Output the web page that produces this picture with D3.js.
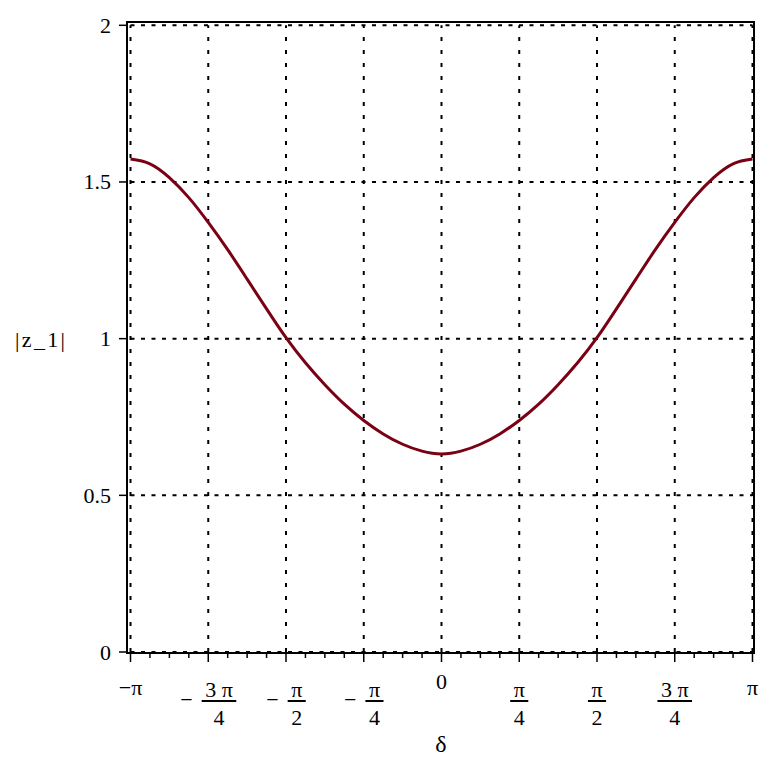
<!DOCTYPE html>
<html>
<head>
<meta charset="utf-8">
<script src="https://cdn.jsdelivr.net/npm/d3@7"></script>
<style>
  html, body { margin: 0; padding: 0; background: #fff; }
  svg { display: block; }
  text { font-family: "Liberation Serif", "DejaVu Serif", serif; fill: #000; }
</style>
</head>
<body>
<svg id="chart" width="772" height="772"></svg>
<script>
// ---- data (delta in units of pi, |z_1| values) ----
const deltaInPi = [-1, -0.9375, -0.875, -0.8125, -0.75, -0.6875, -0.625, -0.5625, -0.5,
  -0.4375, -0.375, -0.3125, -0.25, -0.1875, -0.125, -0.0625, 0,
  0.0625, 0.125, 0.1875, 0.25, 0.3125, 0.375, 0.4375, 0.5,
  0.5625, 0.625, 0.6875, 0.75, 0.8125, 0.875, 0.9375, 1];
const z1Values = [1.573, 1.558, 1.514, 1.450, 1.371, 1.284, 1.190, 1.095, 1.003,
  0.923, 0.853, 0.791, 0.739, 0.696, 0.663, 0.641, 0.632,
  0.641, 0.663, 0.696, 0.739, 0.791, 0.853, 0.923, 1.003,
  1.095, 1.190, 1.284, 1.371, 1.450, 1.514, 1.558, 1.573];

const xTickInPi = [-1, -0.75, -0.5, -0.25, 0, 0.25, 0.5, 0.75, 1];
const xMinorInPi = [-0.9375, -0.875, -0.8125, -0.6875, -0.625, -0.5625, -0.4375, -0.375, -0.3125,
  -0.1875, -0.125, -0.0625, 0.0625, 0.125, 0.1875, 0.3125, 0.375, 0.4375,
  0.5625, 0.625, 0.6875, 0.8125, 0.875, 0.9375];
// label: sign, numerator, denominator (null denominator = plain text)
const xTickLabels = [
  {sign: "", num: "−π", den: null},
  {sign: "−", num: "3 π", den: "4"},
  {sign: "−", num: "π", den: "2"},
  {sign: "−", num: "π", den: "4"},
  {sign: "", num: "0", den: null},
  {sign: "", num: "π", den: "4"},
  {sign: "", num: "π", den: "2"},
  {sign: "", num: "3 π", den: "4"},
  {sign: "", num: "π", den: null}
];
const yTicks = [0, 0.5, 1, 1.5, 2];
const yTickLabels = ["0", "0.5", "1", "1.5", "2"];
const xTitle = "δ";
const yTitle = "|z_1|";

// ---- drawing ----
const svg = d3.select("#chart");
const x = d3.scaleLinear().domain([-Math.PI, Math.PI]).range([130.5, 752.5]);
const y = d3.scaleLinear().domain([0, 2]).range([652, 25.3]);

const curveColor = "#7a0014";

// grid
const grid = svg.append("g");
grid.selectAll("line.h").data(yTicks).join("line")
  .attr("x1", x(-Math.PI)).attr("x2", x(Math.PI))
  .attr("y1", d => y(d)).attr("y2", d => y(d))
  .attr("stroke", "#000").attr("stroke-width", 2)
  .attr("stroke-dasharray", "4,6.5");
grid.selectAll("line.v").data(xTickInPi).join("line")
  .attr("x1", d => x(d * Math.PI)).attr("x2", d => x(d * Math.PI))
  .attr("y1", y(0)).attr("y2", y(2))
  .attr("stroke", "#000").attr("stroke-width", 2)
  .attr("stroke-dasharray", "4,9");

// frame
svg.append("rect")
  .attr("x", 127).attr("y", 22).attr("width", 627).attr("height", 631)
  .attr("fill", "none").attr("stroke", "#000").attr("stroke-width", 2);

// x ticks
const axisY = 653;
svg.append("g").selectAll("line").data(xTickInPi).join("line")
  .attr("x1", d => x(d * Math.PI)).attr("x2", d => x(d * Math.PI))
  .attr("y1", axisY).attr("y2", axisY + 9)
  .attr("stroke", "#000").attr("stroke-width", 1.5);
svg.append("g").selectAll("line").data(xMinorInPi).join("line")
  .attr("x1", d => x(d * Math.PI)).attr("x2", d => x(d * Math.PI))
  .attr("y1", axisY).attr("y2", axisY + 5)
  .attr("stroke", "#000").attr("stroke-width", 1.5);

// y ticks
svg.append("g").selectAll("line").data(yTicks).join("line")
  .attr("x1", 119).attr("x2", 127)
  .attr("y1", d => y(d)).attr("y2", d => y(d))
  .attr("stroke", "#000").attr("stroke-width", 1.5);
svg.append("g").selectAll("text").data(yTicks).join("text")
  .attr("x", 111).attr("y", d => y(d) + 7.5)
  .attr("text-anchor", "end").attr("font-size", 22)
  .text((d, i) => yTickLabels[i]);

// x tick labels
const fs = 22;
xTickInPi.forEach((t, i) => {
  const lab = xTickLabels[i];
  const g = svg.append("g").attr("transform", `translate(${x(t * Math.PI)},0)`);
  if (lab.den === null) {
    g.append("text").attr("x", 0).attr("y", lab.num === "0" ? 689 : 695)
      .attr("text-anchor", "middle").attr("font-size", fs).text(lab.num);
    return;
  }
  const num = g.append("text").attr("y", 697).attr("text-anchor", "middle")
    .attr("font-size", fs).text(lab.num);
  const den = g.append("text").attr("y", 725).attr("text-anchor", "middle")
    .attr("font-size", fs).text(lab.den);
  const nw = num.node().getComputedTextLength();
  const barW = nw + 7;
  let signW = 0, gap = 0, sign = null;
  if (lab.sign) {
    sign = g.append("text").attr("y", 707).attr("text-anchor", "start")
      .attr("font-size", fs).text(lab.sign);
    signW = sign.node().getComputedTextLength();
    gap = 9;
  }
  const total = signW + gap + barW;
  const left = -total / 2;
  if (sign) sign.attr("x", left);
  const barL = left + signW + gap;
  const cx = barL + barW / 2;
  num.attr("x", cx);
  den.attr("x", cx);
  g.append("line").attr("x1", barL).attr("x2", barL + barW)
    .attr("y1", 701).attr("y2", 701)
    .attr("stroke", "#000").attr("stroke-width", 2);
});

// titles
svg.append("text").attr("x", 441).attr("y", 752).attr("text-anchor", "middle")
  .attr("font-size", 24).text(xTitle);
svg.append("text").attr("x", 15).attr("y", 347).attr("text-anchor", "start")
  .attr("font-size", 22).attr("textLength", 50).attr("lengthAdjust", "spacing")
  .text(yTitle);

// curve
const pts = deltaInPi.map((d, i) => [d * Math.PI, z1Values[i]]);
svg.append("path").datum(pts)
  .attr("fill", "none").attr("stroke", curveColor).attr("stroke-width", 3)
  .attr("d", d3.line().x(d => x(d[0])).y(d => y(d[1])).curve(d3.curveNatural));
</script>
</body>
</html>
